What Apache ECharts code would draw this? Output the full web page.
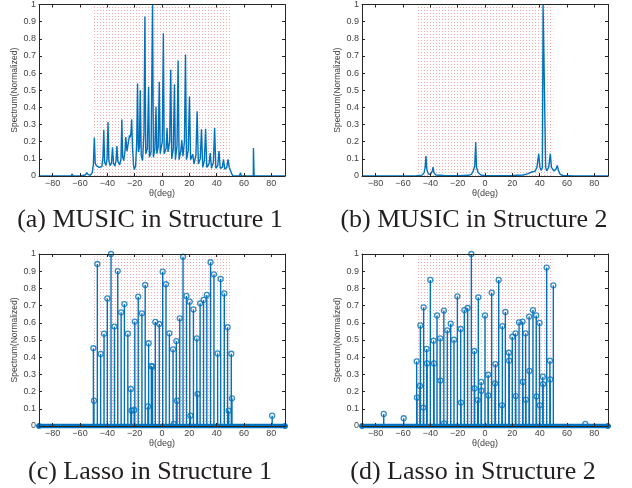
<!DOCTYPE html>
<html><head><meta charset="utf-8">
<script src="https://cdn.jsdelivr.net/npm/echarts@6/dist/echarts.min.js"></script>
<style>html,body{margin:0;padding:0;background:#fff}#c{width:632px;height:488px}</style>
</head><body><div id="c"></div><script>
// ---------- data ----------
const xTicks = [-80,-60,-40,-20,0,20,40,60,80];
const captions = ['(a) MUSIC in Structure 1','(b) MUSIC in Structure 2','(c) Lasso in Structure 1','(d) Lasso in Structure 2'];
const regionBounds = [-50, 50];
const regionTop = 0.986;

// (a) MUSIC spectrum, structure 1
const thetaA = [-90,-66.5,-65.7,-65,-60,-59.3,-58.6,-56,-55,-54,
 -52.5,-51,-50.2,-49.5,-48.9,-48,-47,-46,-45,-44,
 -43.2,-42.6,-42,-41,-40.2,-39.5,-38.9,-38,-37,-36.2,
 -35.5,-34.5,-33.6,-33,-32.3,-31,-30,-29.4,-28.8,-28,
 -27,-26.5,-25.6,-24.5,-23.8,-23.2,-22.6,-22.2,-21.6,-20.8,
 -20.2,-19.3,-18.5,-17.9,-17.3,-16.5,-15.9,-15.2,-14.2,-13.2,
 -12.5,-11.9,-10.7,-9.8,-9.2,-8,-6.9,-6.3,-5.2,-4.4,
 -3.8,-2.8,-2.0,-1.3,0.2,1.0,1.6,3.0,3.7,4.4,
 5.6,6.4,7.1,8.3,9.1,9.8,11,11.8,12.5,13.8,
 14.5,15.3,16.4,17.2,17.9,19.2,20.1,20.9,21.8,22.5,
 23.4,24.8,25.7,26.6,28,28.9,29.8,31,31.9,32.8,
 34.4,35.3,36.2,37.6,38.5,39.4,40.8,41.7,42.6,44.1,
 45,45.9,47.4,48.3,49.2,50.2,51,52,56.7,57.4,
 58.1,66.8,66.9,67.3,67.4,90];
const specA = [0,0,0.012,0,0,0.005,0,0.006,0.02,0.008,
 0.004,0.02,0.07,0.225,0.075,0.06,0.066,0.05,0.04,0.055,
 0.11,0.27,0.08,0.062,0.1,0.315,0.09,0.06,0.075,0.167,
 0.075,0.058,0.09,0.175,0.085,0.065,0.1,0.33,0.11,0.09,
 0.15,0.227,0.145,0.2,0.237,0.225,0.26,0.33,0.17,0.06,
 0.038,0.06,0.2,0.54,0.14,0.17,0.5,0.12,0.09,0.25,
 0.93,0.13,0.16,0.52,0.11,0.14,1.0,0.11,0.16,0.405,
 0.13,0.17,0.55,0.13,0.2,0.833,0.13,0.16,0.28,0.14,
 0.2,0.62,0.1,0.16,0.535,0.095,0.18,0.674,0.095,0.15,
 0.208,0.115,0.2,0.708,0.095,0.15,0.464,0.095,0.1,0.126,
 0.07,0.12,0.377,0.07,0.1,0.272,0.05,0.09,0.276,0.05,
 0.07,0.134,0.045,0.08,0.28,0.045,0.06,0.146,0.045,0.05,
 0.097,0.04,0.05,0.097,0.05,0.03,0.012,0,0,0.02,
 0,0,0.163,0.163,0,0];

// (b) MUSIC spectrum, structure 2
const thetaB = [-90,-60,-50,-46,-44.5,-43.8,-43.2,-42.6,-41.5,-40,
 -39,-38.5,-38,-37.4,-36,-30,-20,-12,-10,-8.5,
 -7.5,-6.8,-6.2,-5,-3,0,20,28,31,34,
 36.5,38,39.3,40.2,41.2,42,42.5,43.8,44.4,45.2,
 46.6,47.8,48.6,50.4,52,52.9,53.8,55,57,65,
 71.5,72.4,73.3,90];
const specB = [0,0,0.002,0.005,0.02,0.05,0.117,0.04,0.012,0.008,
 0.015,0.03,0.052,0.02,0.006,0.003,0.002,0.004,0.01,0.03,
 0.06,0.198,0.05,0.02,0.006,0.002,0.003,0.006,0.012,0.023,
 0.027,0.05,0.13,0.05,0.033,0.05,1.0,1.0,0.05,0.03,
 0.05,0.13,0.05,0.03,0.04,0.062,0.03,0.01,0.003,0,
 0,0.01,0,0];

// (c) Lasso, structure 1 (non-zero stems)
const thetaC = [-50.2,-49.8,-47.3,-44.9,-42.4,-40.0,-37.3,-34.8,-32.4,-29.9,
 -27.5,-25.0,-22.8,-22.3,-20.3,-19.9,-17.4,-14.7,-12.3,-10.3,
 -9.8,-7.8,-6.9,-4.9,-2.0,0.5,2.9,5.4,8.1,8.6,
 10.5,11.0,13.0,15.4,17.9,20.3,20.8,23.0,25.5,26.0,
 27.9,30.4,32.8,35.5,38.0,40.7,42.9,45.6,48.0,48.8,
 50.7,51.2,80.6];
const ampC = [0.452,0.147,0.942,0.419,0.537,0.742,1.0,0.578,0.901,0.661,
 0.709,0.537,0.215,0.089,0.093,0.607,0.752,0.655,0.82,0.114,
 0.481,0.349,0.345,0.605,0.593,0.897,0.824,0.539,0.446,0.012,
 0.494,0.147,0.626,0.984,0.756,0.723,0.06,0.678,0.51,0.186,
 0.713,0.733,0.762,0.952,0.882,0.422,0.855,0.771,0.574,0.089,
 0.42,0.161,0.06];

// (d) Lasso, structure 2 (non-zero stems)
const thetaD = [-74.1,-59.5,-50.0,-49.8,-47.6,-47.3,-45.1,-44.9,-42.7,-42.4,
 -40.0,-37.6,-37.3,-35.1,-32.8,-32.6,-30.1,-29.9,-27.6,-25.1,
 -22.7,-20.2,-17.8,-17.6,-15.1,-12.7,-10.0,-7.8,-7.6,-5.4,
 -4.9,-2.8,-2.6,0,2.3,2.5,4.9,7.3,7.6,10.0,
 12.4,12.7,14.9,17.5,17.7,20.0,22.3,22.5,24.9,27.5,
 27.7,29.7,29.9,32.3,32.5,35.1,37.5,37.7,39.9,40.1,
 42.3,42.5,45.1,47.5,47.7,50.0,73.4];
const ampD = [0.07,0.045,0.376,0.165,0.233,0.585,0.107,0.69,0.448,0.364,
 0.849,0.496,0.364,0.643,0.51,0.264,0.671,0.015,0.556,0.595,
 0.502,0.754,0.564,0.136,0.674,0.686,1.0,0.436,0.219,0.151,
 0.748,0.256,0.205,0.643,0.298,0.178,0.775,0.248,0.36,0.849,
 0.12,0.581,0.663,0.426,0.38,0.519,0.539,0.174,0.603,0.607,
 0.256,0.539,0.153,0.636,0.32,0.674,0.643,0.172,0.599,0.12,
 0.287,0.244,0.921,0.38,0.271,0.818,0.012];

const zeroLine = [[-90,0],[90,0]];

// ---------- styling ----------
const BLUE = '#0072BD';
const AX = '#262626';
const LBL = '#444444';
const SANS = 'Liberation Sans, Arial, sans-serif';
const FS = 9;

const pat = document.createElement('canvas');
pat.width = 3; pat.height = 3;
const pg = pat.getContext('2d');
pg.fillStyle = 'rgba(236,110,110,0.6)';
pg.fillRect(1,1,1,1);

const zip = (xs, ys) => xs.map((x, i) => [x, ys[i]]);

const grids = [
  {left:39, top:4, width:246, height:172},
  {left:362, top:4, width:246, height:172},
  {left:39, top:254, width:246, height:172},
  {left:362, top:254, width:246, height:172}
];

const xAxes = [], yAxes = [];
grids.forEach((g, i) => {
  const tickStyle = {show:true, inside:true, length:3, customValues:xTicks, lineStyle:{color:AX, width:1}};
  xAxes.push({
    type:'value', gridIndex:i, min:-90, max:90, position:'bottom', z:10,
    axisLine:{show:true, onZero:false, lineStyle:{color:AX, width:1}},
    axisTick:tickStyle,
    axisLabel:{show:true, customValues:xTicks, margin:3, fontSize:FS, color:LBL, fontFamily:SANS,
      formatter:v => String(v).replace('-', '\u2212')},
    splitLine:{show:false},
    name:'\u03b8(deg)', nameLocation:'middle', nameGap:12,
    nameTextStyle:{fontSize:FS, color:LBL, fontFamily:SANS}
  });
  xAxes.push({
    type:'value', gridIndex:i, min:-90, max:90, position:'top', z:10,
    axisLine:{show:true, onZero:false, lineStyle:{color:AX, width:1}},
    axisTick:tickStyle,
    axisLabel:{show:false, customValues:xTicks},
    splitLine:{show:false}
  });
  const yTick = {show:true, inside:true, length:3, lineStyle:{color:AX, width:1}};
  yAxes.push({
    type:'value', gridIndex:i, min:0, max:1, interval:0.1, position:'left', z:10,
    axisLine:{show:true, onZero:false, lineStyle:{color:AX, width:1}},
    axisTick:yTick,
    axisLabel:{show:true, margin:3, fontSize:FS, color:LBL, fontFamily:SANS},
    splitLine:{show:false},
    name:'Spectrum(Normalized)', nameLocation:'middle', nameGap:20,
    nameTextStyle:{fontSize:8.5, color:LBL, fontFamily:SANS}
  });
  yAxes.push({
    type:'value', gridIndex:i, min:0, max:1, interval:0.1, position:'right', z:10,
    axisLine:{show:true, onZero:false, lineStyle:{color:AX, width:1}},
    axisTick:yTick,
    axisLabel:{show:false},
    splitLine:{show:false}
  });
});

const region = {
  silent:true,
  itemStyle:{color:{image:pat, repeat:'repeat'}},
  data:[[{xAxis:regionBounds[0], yAxis:0},{xAxis:regionBounds[1], yAxis:regionTop}]]
};

function lineSeries(i, xs, ys) {
  return {
    type:'line', xAxisIndex:2*i, yAxisIndex:2*i, data:zip(xs, ys),
    showSymbol:false, symbol:'none', animation:false,
    lineStyle:{color:BLUE, width:1.4}, z:3,
    markArea:region
  };
}
function stemSeries(i, xs, ys) {
  return [
    {
      type:'custom', xAxisIndex:2*i, yAxisIndex:2*i, data:zip(xs, ys),
      encode:{x:0, y:1}, animation:false, z:3,
      renderItem:(params, api) => {
        const p0 = api.coord([api.value(0), 0]);
        const p1 = api.coord([api.value(0), api.value(1)]);
        return {type:'line', shape:{x1:p0[0], y1:p0[1], x2:p1[0], y2:p1[1]},
          style:{stroke:BLUE, lineWidth:1.4}};
      },
      markArea:region
    },
    {
      type:'scatter', xAxisIndex:2*i, yAxisIndex:2*i, data:zip(xs, ys),
      symbol:'circle', symbolSize:5, animation:false, z:4,
      itemStyle:{color:'rgba(0,0,0,0)', borderColor:BLUE, borderWidth:1.3}
    },
    {
      type:'line', xAxisIndex:2*i, yAxisIndex:2*i, data:zeroLine, clip:false,
      symbol:'circle', symbolSize:5, showSymbol:true, animation:false, z:4,
      lineStyle:{color:BLUE, width:4.5},
      itemStyle:{color:BLUE, borderColor:BLUE, borderWidth:1}
    }
  ];
}

const captionPos = [[150,220],[474,220],[150,472],[473,472]];
const graphic = captions.map((t, i) => ({
  type:'text', x:captionPos[i][0], y:captionPos[i][1], silent:true,
  style:{text:t, fill:'#231f20', font:'26px "Liberation Serif", "Times New Roman", serif',
    textAlign:'center', textVerticalAlign:'middle'}
}));

const chart = echarts.init(document.getElementById('c'), null, {renderer:'canvas'});
chart.setOption({
  backgroundColor:'#fff',
  animation:false,
  grid:grids,
  xAxis:xAxes,
  yAxis:yAxes,
  graphic:graphic,
  series:[
    lineSeries(0, thetaA, specA),
    lineSeries(1, thetaB, specB),
    ...stemSeries(2, thetaC, ampC),
    ...stemSeries(3, thetaD, ampD)
  ]
});
</script></body></html>
